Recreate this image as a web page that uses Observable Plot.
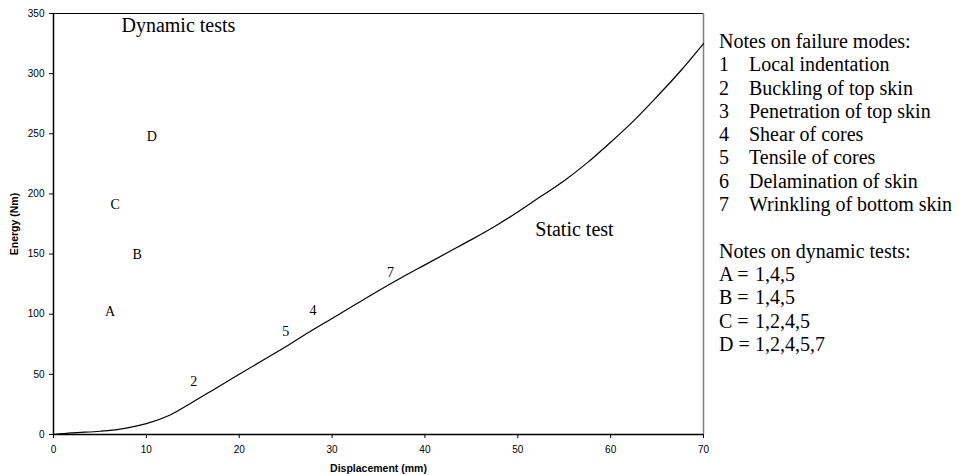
<!DOCTYPE html>
<html>
<head>
<meta charset="utf-8">
<script src="https://cdn.jsdelivr.net/npm/d3@7"></script>
<script src="https://cdn.jsdelivr.net/npm/@observablehq/plot@0.6"></script>
<style>
  body { margin: 0; background: #fff; }
  #wrap { position: relative; width: 960px; height: 475px; overflow: hidden; }
  #chart { position: absolute; left: 0; top: 0; }
  #notes { position: absolute; left: 719px; top: 30px; font-family: "Liberation Serif", "Times New Roman", serif; font-size: 20px; line-height: 23.3px; color: #000; white-space: nowrap; }
  #notes .k { display: inline-block; width: 30px; }
  #notes .d { display: inline-block; width: 36px; }
  #notes .gap { height: 23.3px; }
</style>
</head>
<body>
<div id="wrap">
  <div id="chart"></div>
  <div id="notes"></div>
</div>
<script>
// Static test curve: displacement (mm) vs energy (Nm)
const staticDisp   = [0, 2, 5, 7, 10, 12.5, 15, 17.5, 20, 22.5, 25, 27.5, 30, 32.5, 35, 37.5, 40, 42.5, 45, 47.5, 50, 52.5, 55, 57.5, 60, 62.5, 65, 67.5, 70];
const staticEnergy = [0, 1.3, 2.7, 4.2, 9, 16, 27, 38.5, 50, 61.5, 73, 85, 96.5, 108, 119.5, 130.5, 141, 151.5, 162, 173, 185, 198, 211, 226, 243, 261, 281, 302, 325];

// Dynamic test labels
const dynLabels = ["A", "B", "C", "D"];
const dynDisp   = [6.1, 9.0, 6.65, 10.6];
const dynEnergy = [102, 149.4, 191, 248];

// Failure-mode labels along the static curve
const modeLabels = ["2", "5", "4", "7"];
const modeDisp   = [15.1, 25.0, 27.95, 36.3];
const modeEnergy = [43.8, 85.5, 102.8, 135];

// Annotations
const annoText   = ["Dynamic tests", "Static test"];
const annoDisp   = [13.45, 56.1];
const annoEnergy = [340, 170.5];

// Axis ticks
const xTicks = [0, 10, 20, 30, 40, 50, 60, 70];
const yTicks = [0, 50, 100, 150, 200, 250, 300, 350];

// Notes
const failureTitle = "Notes on failure modes:";
const failureNums  = ["1", "2", "3", "4", "5", "6", "7"];
const failureModes = ["Local indentation", "Buckling of top skin", "Penetration of top skin", "Shear of cores", "Tensile of cores", "Delamination of skin", "Wrinkling of bottom skin"];
const dynTitle = "Notes on dynamic tests:";
const dynModes = ["1,4,5", "1,4,5", "1,2,4,5", "1,2,4,5,7"];

const curve = staticDisp.map((d, i) => ({x: d, y: staticEnergy[i]}));
const dyn = dynLabels.map((l, i) => ({label: l, x: dynDisp[i], y: dynEnergy[i]}));
const modes = modeLabels.map((l, i) => ({label: l, x: modeDisp[i], y: modeEnergy[i]}));
const anno = annoText.map((t, i) => ({label: t, x: annoDisp[i], y: annoEnergy[i]}));

const serif = "Liberation Serif, Times New Roman, serif";
const sans = "Liberation Sans, Arial, sans-serif";

const chart = Plot.plot({
  width: 960,
  height: 475,
  marginLeft: 53,
  marginRight: 257,
  marginTop: 13,
  marginBottom: 41,
  style: {fontFamily: sans, fontSize: "10px", background: "#fff", color: "#000"},
  x: {domain: [0, 70]},
  y: {domain: [0, 350]},
  marks: [
    Plot.ruleY([350], {stroke: "#000", strokeWidth: 1}),
    Plot.ruleX([70], {stroke: "#808080", strokeWidth: 1.5}),
    Plot.axisX({ticks: xTicks, tickSize: 4, tickPadding: 7, fontSize: 10, fontFamily: sans,
      label: "Displacement (mm)", labelAnchor: "center", labelArrow: "none", labelOffset: 37}),
    Plot.axisY({ticks: yTicks, tickSize: 4, tickPadding: 5, fontSize: 10, fontFamily: sans,
      label: "Energy (Nm)", labelAnchor: "center", labelArrow: "none", labelOffset: 43}),
    Plot.ruleY([0], {stroke: "#000", strokeWidth: 1.5}),
    Plot.ruleX([0], {stroke: "#000", strokeWidth: 1.5}),
    Plot.line(curve, {x: "x", y: "y", curve: "catmull-rom", stroke: "#000", strokeWidth: 1.2}),
    Plot.text(dyn, {x: "x", y: "y", text: "label", fontFamily: serif, fontSize: 14, fill: "#000"}),
    Plot.text(modes, {x: "x", y: "y", text: "label", fontFamily: serif, fontSize: 14, fill: "#000"}),
    Plot.text(anno, {x: "x", y: "y", text: "label", fontFamily: serif, fontSize: 20, fill: "#000"})
  ]
});
// bold axis labels
chart.querySelectorAll("[aria-label='x-axis label'] text, [aria-label='y-axis label'] text").forEach(t => {
  t.setAttribute("font-weight", "bold");
  t.setAttribute("font-size", "10.5");
});
document.getElementById("chart").appendChild(chart);

// Notes block
const notes = document.getElementById("notes");
const addLine = (html) => { const d = document.createElement("div"); d.innerHTML = html; notes.appendChild(d); };
addLine(failureTitle);
failureNums.forEach((n, i) => addLine(`<span class="k">${n}</span>${failureModes[i]}`));
const gap = document.createElement("div"); gap.className = "gap"; notes.appendChild(gap);
addLine(dynTitle);
dynLabels.forEach((l, i) => addLine(`<span class="d">${l} =</span>${dynModes[i]}`));
</script>
</body>
</html>
